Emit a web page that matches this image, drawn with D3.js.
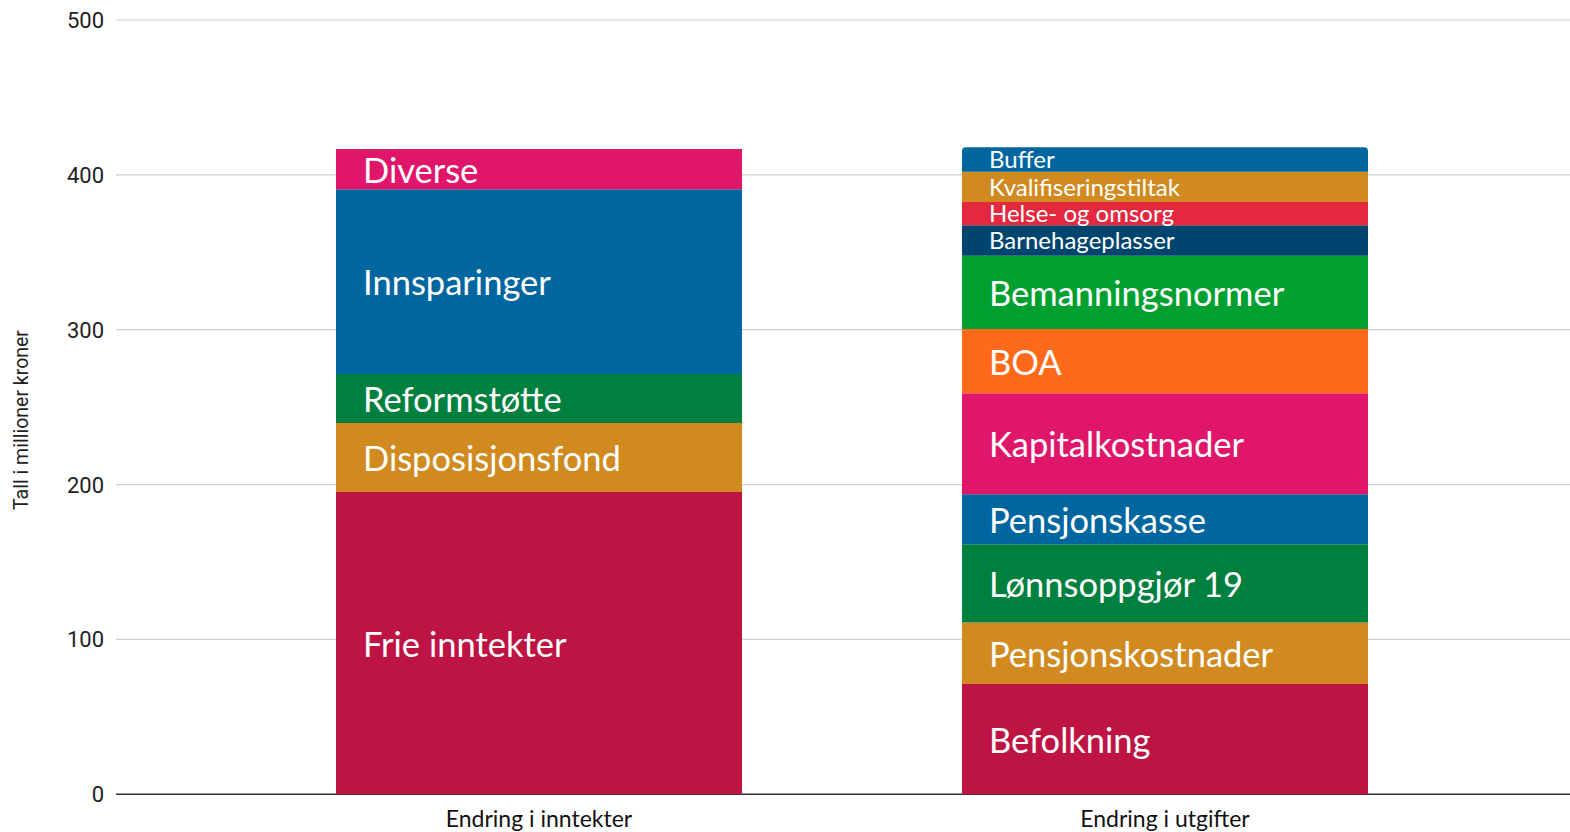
<!DOCTYPE html>
<html>
<head>
<meta charset="utf-8">
<script src="https://cdn.jsdelivr.net/npm/d3@7"></script>
<style>
  html, body { margin: 0; padding: 0; background: #fff; }
  svg { display: block; }
</style>
</head>
<body>
<div id="chart"></div>
<script>
// categories (bars)
var categories = ["Endring i inntekter", "Endring i utgifter"];

// segments, bottom to top
var incomeNames = ["Frie inntekter", "Disposisjonsfond", "Reformstøtte", "Innsparinger", "Diverse"];
var incomeValues = [195.2, 44.6, 31.6, 119.3, 26];

var costNames = ["Befolkning", "Pensjonskostnader", "Lønnsoppgjør 19", "Pensjonskasse", "Kapitalkostnader",
                 "BOA", "Bemanningsnormer", "Barnehageplasser", "Helse- og omsorg", "Kvalifiseringstiltak", "Buffer"];
var costValues = [71.2, 39.8, 50.4, 32.3, 65.2, 41.5, 47.3, 19.8, 14.9, 19.6, 15.8];

var yTicks = [0, 100, 200, 300, 400, 500];
var yTitle = "Tall i millioner kroner";

var colors = {
    "Frie inntekter": "#be1444", "Befolkning": "#be1444",
    "Disposisjonsfond": "#d18a1f", "Pensjonskostnader": "#d18a1f", "Kvalifiseringstiltak": "#d18a1f",
    "Reformstøtte": "#00803f", "Lønnsoppgjør 19": "#00803f",
    "Innsparinger": "#0066a0", "Pensjonskasse": "#0066a0", "Buffer": "#0066a0",
    "Diverse": "#e0166a", "Kapitalkostnader": "#e0166a",
    "BOA": "#ff6a1a",
    "Bemanningsnormer": "#00a030",
    "Barnehageplasser": "#00456e",
    "Helse- og omsorg": "#e32840"
};

var smallLabels = ["Barnehageplasser", "Helse- og omsorg", "Kvalifiseringstiltak", "Buffer"];

var width = 1570, height = 832;

var svg = d3.select("#chart")
  .append("svg")
    .attr("width", width)
    .attr("height", height);

// build stacked segments
function stackUp(cat, names, values) {
    var acc = 0;
    return names.map(function(n, i) {
        var d = {cat: cat, name: n, y0: acc, y1: acc + values[i], top: i === names.length - 1};
        acc += values[i];
        return d;
    });
}
var segments = stackUp(categories[0], incomeNames, incomeValues)
    .concat(stackUp(categories[1], costNames, costValues));

var y = d3.scaleLinear()
    .domain([0, 500])
    .range([794.3, 20]);

var x = d3.scaleBand()
    .domain(categories)
    .range([226, 1478])
    .paddingInner(0.3514)
    .paddingOuter(0.1757);

// grid lines
svg.append("g")
  .selectAll("line")
  .data(yTicks)
  .enter()
  .append("line")
    .attr("x1", 116)
    .attr("x2", width)
    .attr("y1", function(d) { return y(d); })
    .attr("y2", function(d) { return y(d); })
    .attr("stroke", function(d) { return d === 0 ? "#333" : "#cfcfcf"; })
    .attr("stroke-width", function(d) { return d === 0 ? 1.5 : 1.2; });

// y tick labels
svg.append("g")
  .selectAll("text")
  .data(yTicks)
  .enter()
  .append("text")
    .attr("x", 104)
    .attr("y", function(d) { return y(d); })
    .attr("dy", "0.36em")
    .attr("text-anchor", "end")
    .style("font-family", "Roboto, sans-serif")
    .style("font-size", "22px")
    .style("fill", "#222")
    .text(function(d) { return d; });

// y title
svg.append("text")
    .attr("transform", "translate(28,420)rotate(-90)")
    .attr("text-anchor", "middle")
    .style("font-family", "Roboto, sans-serif")
    .style("font-size", "19.5px")
    .style("fill", "#222")
    .text(yTitle);

// segments
function segPath(d) {
    var x0 = x(d.cat), x1 = x0 + x.bandwidth();
    var yt = y(d.y1), yb = y(d.y0);
    var r = (d.top && d.cat === categories[1]) ? 4 : 0;
    return "M" + x0 + "," + yb +
           "L" + x0 + "," + (yt + r) +
           (r ? "Q" + x0 + "," + yt + " " + (x0 + r) + "," + yt : "") +
           "L" + (x1 - r) + "," + yt +
           (r ? "Q" + x1 + "," + yt + " " + x1 + "," + (yt + r) : "") +
           "L" + x1 + "," + yb + "Z";
}

svg.append("g")
  .selectAll("path")
  .data(segments)
  .enter()
  .append("path")
    .attr("d", segPath)
    .attr("fill", function(d) { return colors[d.name]; });

// segment labels
svg.append("g")
  .selectAll("text")
  .data(segments)
  .enter()
  .append("text")
    .attr("x", function(d) { return x(d.cat) + 27; })
    .attr("y", function(d) {
        var small = smallLabels.indexOf(d.name) >= 0;
        return (y(d.y0) + y(d.y1)) / 2 + (small ? 0 : 1);
    })
    .attr("dy", "0.36em")
    .style("font-family", "Lato, sans-serif")
    .style("font-size", function(d) { return smallLabels.indexOf(d.name) >= 0 ? "24px" : "34.5px"; })
    .style("fill", "#fff")
    .text(function(d) { return d.name; });

// category labels
svg.append("g")
  .selectAll("text")
  .data(categories)
  .enter()
  .append("text")
    .attr("x", function(d) { return x(d) + x.bandwidth() / 2; })
    .attr("y", 819)
    .attr("dy", "0.36em")
    .attr("text-anchor", "middle")
    .style("font-family", "Lato, sans-serif")
    .style("font-size", "23px")
    .style("fill", "#111")
    .text(function(d) { return d; });
</script>
</body>
</html>
